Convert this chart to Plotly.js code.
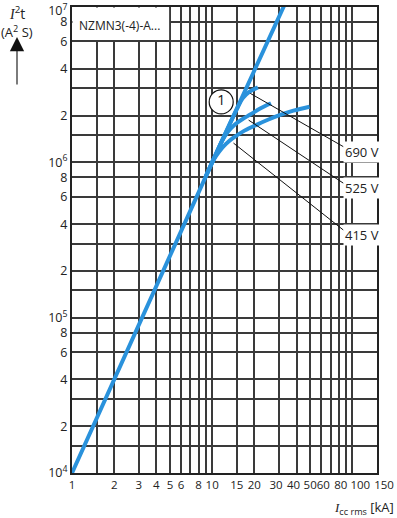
<!DOCTYPE html>
<html>
<head>
<meta charset="utf-8">
<script src="https://cdn.plot.ly/plotly-3.0.1.min.js"></script>
<style>html,body{margin:0;padding:0;background:#fff;}#chart{width:397px;height:518px;}</style>
</head>
<body>
<div id="chart"></div>
<script>
// ---- data ----
const mainX = [1, 10, 32.3, 36];
const mainY = [1e4, 1e6, 1e7, 1.25e7];

const v415X = [9, 10.2, 11.2, 12.5, 14.2, 17, 20.9, 25, 30.6, 38, 49.5];
const v415Y = [8.1e5, 1.03e6, 1.17e6, 1.31e6, 1.44e6, 1.6e6, 1.75e6, 1.88e6, 2.02e6, 2.15e6, 2.28e6];

const v525X = [9, 10.5, 11.8, 13, 14.6, 16.5, 18.7, 22, 26.3];
const v525Y = [8.1e5, 1.1e6, 1.38e6, 1.58e6, 1.76e6, 1.9e6, 2.03e6, 2.22e6, 2.4e6];

const v690X = [10, 13, 15, 16.5, 18.5, 21.2];
const v690Y = [1e6, 1.68e6, 2.2e6, 2.58e6, 2.85e6, 3.04e6];

const leaderLabels = ["690 V", "525 V", "415 V"];
const leaderStartX = [18.7, 18.2, 14.2];
const leaderStartY = [2.78e6, 1.87e6, 1.33e6];
const leaderEndX = [86.5, 86.5, 86.5];
const leaderEndY = [1.26e6, 7.33e5, 3.66e5];

const markX = [11.6];
const markY = [2.45e6];
const markText = ["1"];

// grid lines (all) and labelled ticks, grouped by the small label offset seen in the reference
const xGridVals = [1, 1.5, 2, 3, 4, 5, 6, 7, 8, 9, 10, 15, 20, 30, 40, 50, 60, 70, 80, 90, 100, 150];
const xGridText = ["1", "", "2", "3", "4", "5", "6", "", "8", "", "10", "15", "20", "", "", "50", "", "", "", "", "", ""];
const xLabelsA = [30, 40];   const xTextA = ["30", "40"];
const xLabelsB = [60, 80];   const xTextB = ["60", "80"];
const xLabelsC = [100];      const xTextC = ["100"];
const xLabelsD = [150];      const xTextD = ["150"];

const yTickVals = [1e4, 1.5e4, 2e4, 3e4, 4e4, 6e4, 8e4, 1e5, 1.5e5, 2e5, 3e5, 4e5, 6e5, 8e5, 1e6, 1.5e6, 2e6, 3e6, 4e6, 6e6, 8e6, 1e7];
const yTickText = ["10<sup>4</sup>", "", "2", "", "4", "6", "8", "10<sup>5</sup>", "", "2", "", "4", "6", "8", "10<sup>6</sup>", "", "2", "", "4", "6", "8", ""];
const yTopVals = [1e7];
const yTopText = ["10<sup>7</sup>"];

const deviceLabel = "NZMN3(-4)-A...";

// ---- chart ----
const blue = "#2a92dc";
const FONT = "Open Sans, Noto Sans, sans-serif";
const curveLine = {color: blue, width: 4};
const XRANGE = [0, Math.log10(150)];
const YRANGE = [4, 7];

const traces = [];
const leaderAxes = ["x2", "x3", "x4"];
for (let i = 0; i < leaderLabels.length; i++) {
  traces.push({x: [leaderStartX[i], leaderEndX[i]], y: [leaderStartY[i], leaderEndY[i]], xaxis: leaderAxes[i],
    mode: "lines", line: {color: "#111", width: 1}, hoverinfo: "skip", showlegend: false});
}
traces.push({x: v415X, y: v415Y, mode: "lines", line: Object.assign({shape: "spline"}, curveLine), showlegend: false});
traces.push({x: v525X, y: v525Y, mode: "lines", line: Object.assign({shape: "spline"}, curveLine), showlegend: false});
traces.push({x: v690X, y: v690Y, mode: "lines", line: Object.assign({shape: "spline"}, curveLine), showlegend: false});
traces.push({x: mainX, y: mainY, yaxis: "y2", mode: "lines", line: curveLine, showlegend: false});
traces.push({x: markX, y: markY, xaxis: "x5", mode: "markers+text", text: markText, textposition: "middle center",
  marker: {symbol: "circle", size: 24, color: "#fff", line: {color: "#111", width: 1.2}},
  textfont: {family: FONT, size: 14, color: "#111"}, cliponaxis: false, showlegend: false, hoverinfo: "skip"});

const plotL = 72, plotT = 7, plotW = 305, plotH = 466;
const px2x = px => (px - plotL) / plotW;
const py2y = py => 1 - (py - plotT) / plotH;

const annotations = leaderLabels.map((t, i) => ({
  x: Math.log10(leaderEndX[i]), y: Math.log10(leaderEndY[i]), xref: "x", yref: "y",
  text: t, showarrow: false, xanchor: "left", yanchor: "middle", yshift: -5,
  bgcolor: "#fff", borderpad: 1, font: {family: FONT, size: 13, color: "#222"}
}));
annotations.push({x: px2x(77), y: py2y(25), xref: "paper", yref: "paper", text: deviceLabel, showarrow: false,
  xanchor: "left", yanchor: "middle", font: {family: FONT, size: 12, color: "#222"}});
annotations.push({x: px2x(17), y: py2y(13), xref: "paper", yref: "paper",
  text: "<i><span style='font-family:Liberation Serif'>I</span></i><sup>2</sup>t", showarrow: false,
  xanchor: "center", yanchor: "middle", font: {family: FONT, size: 14, color: "#222"}});
annotations.push({x: px2x(17), y: py2y(31), xref: "paper", yref: "paper",
  text: "(A<sup>2</sup> S)", showarrow: false,
  xanchor: "center", yanchor: "middle", font: {family: FONT, size: 13, color: "#222"}});
annotations.push({
  x: px2x(17), y: py2y(37), xref: "paper", yref: "paper",
  ax: px2x(17), ay: py2y(86), axref: "paper", ayref: "paper",
  text: "", showarrow: true, arrowhead: 2, arrowsize: 2.6, arrowwidth: 1.1, arrowcolor: "#111"
});
annotations.push({
  x: px2x(396), y: py2y(508), xref: "paper", yref: "paper",
  text: "<i><span style='font-family:Liberation Serif'>I</span></i><sub>cc rms</sub> [kA]", showarrow: false,
  xanchor: "right", yanchor: "middle", font: {family: FONT, size: 13, color: "#222"}
});

const tickFontX = {family: FONT, size: 11.5, color: "#222"};
const tickFontY = {family: FONT, size: 12.5, color: "#222"};
function labelAxisX(vals, text, shift) {
  return {type: "log", range: XRANGE, overlaying: "x", anchor: "y", side: "bottom",
    tickmode: "array", tickvals: vals, ticktext: text, tickangle: 0, ticklabelshift: shift,
    ticklabeloverflow: "allow", showgrid: false, zeroline: false,
    showline: true, linewidth: 2, linecolor: "rgba(0,0,0,0)", ticks: "",
    tickfont: tickFontX, fixedrange: true};
}

const layout = {
  width: 397, height: 518,
  margin: {l: plotL, r: 397 - plotL - plotW, t: plotT, b: 518 - plotT - plotH},
  paper_bgcolor: "#fff", plot_bgcolor: "#fff",
  showlegend: false,
  font: {family: FONT, size: 12, color: "#222"},
  xaxis: {type: "log", range: XRANGE, tickmode: "array", tickvals: xGridVals, ticktext: xGridText,
    tickangle: 0, ticklabeloverflow: "allow",
    showgrid: true, gridcolor: "#3a3a3a", gridwidth: 2, zeroline: false, ticks: "",
    showline: true, mirror: true, linecolor: "#222", linewidth: 2, tickfont: tickFontX, fixedrange: true},
  xaxis2: labelAxisX(xLabelsA, xTextA, -3),
  xaxis3: labelAxisX(xLabelsB, xTextB, 2),
  xaxis4: labelAxisX(xLabelsC, xTextC, 8),
  xaxis5: labelAxisX(xLabelsD, xTextD, 7),
  yaxis: {type: "log", range: YRANGE, tickmode: "array", tickvals: yTickVals, ticktext: yTickText,
    ticklabeloverflow: "allow",
    showgrid: true, gridcolor: "#3a3a3a", gridwidth: 2, zeroline: false, ticks: "",
    showline: true, mirror: true, linecolor: "#222", linewidth: 2, tickfont: tickFontY, fixedrange: true},
  yaxis2: {type: "log", range: YRANGE, overlaying: "y", anchor: "x", side: "left",
    tickmode: "array", tickvals: yTopVals, ticktext: yTopText, ticklabelshift: 4,
    ticklabeloverflow: "allow", showgrid: false, zeroline: false,
    showline: true, linewidth: 2, linecolor: "rgba(0,0,0,0)", ticks: "",
    tickfont: tickFontY, fixedrange: true},
  shapes: [{type: "rect", xref: "x", yref: "y", x0: 1.008, x1: 4.93, y0: 6.12e6, y1: 9.93e6, layer: "between",
    fillcolor: "#fff", line: {width: 0}}],
  annotations: annotations
};

Plotly.newPlot("chart", traces, layout, {displayModeBar: false});
</script>
</body>
</html>
